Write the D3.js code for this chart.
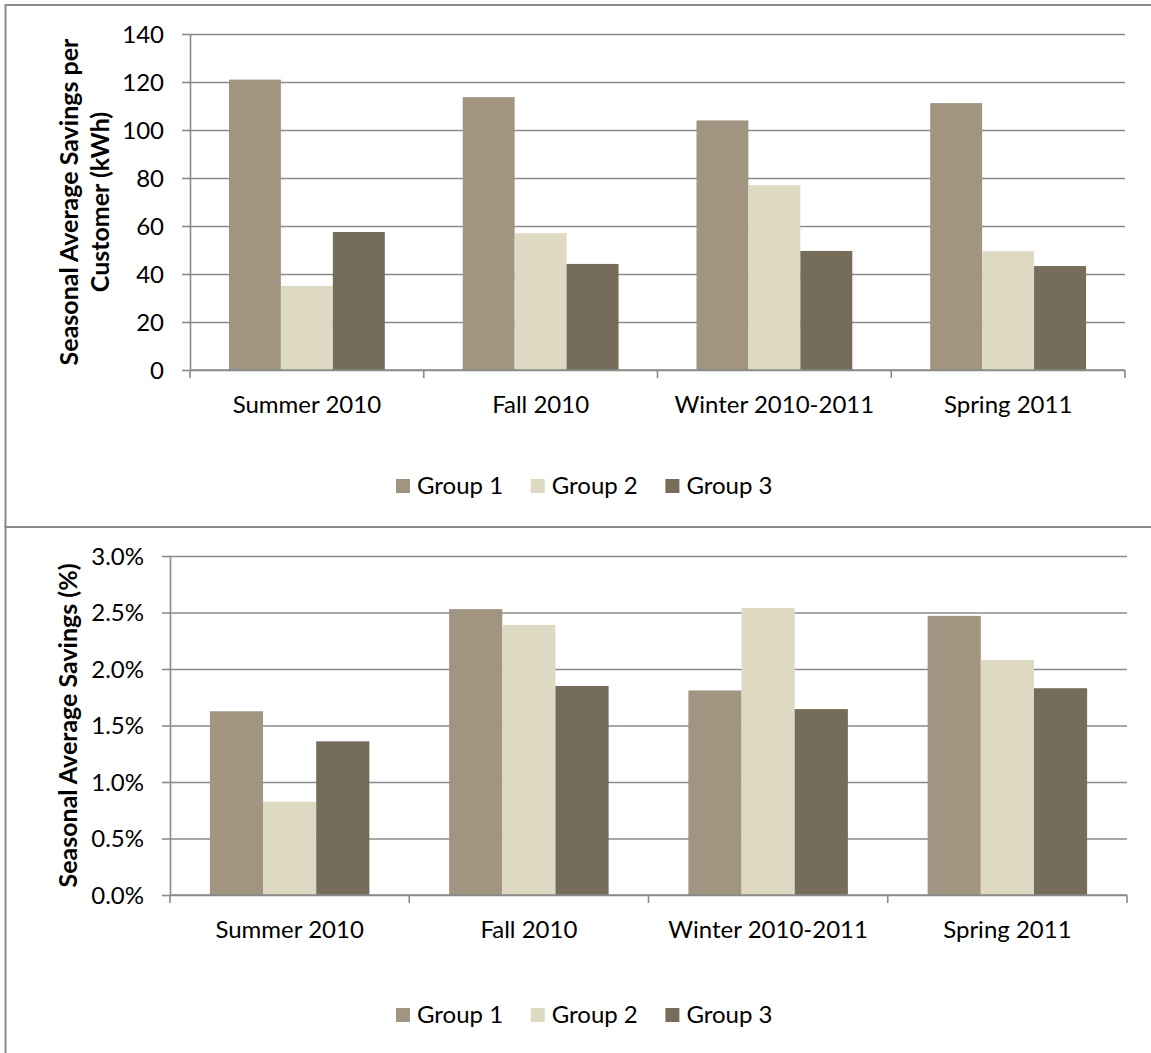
<!DOCTYPE html>
<html>
<head>
<meta charset="utf-8">
<script src="https://cdn.jsdelivr.net/npm/d3@7"></script>
<style>
  html, body { margin: 0; padding: 0; background: #fff; }
  svg { display: block; }
  text { font-family: Lato, "Open Sans", sans-serif; fill: #000; }
</style>
</head>
<body>
<svg id="chart" width="1151" height="1053"></svg>
<script>
// Seasons along the x axis
const seasons = ["Summer 2010", "Fall 2010", "Winter 2010-2011", "Spring 2011"];
const groups = ["Group 1", "Group 2", "Group 3"];
const groupColors = ["#a19582", "#ddd9c3", "#766c5a"];

// Seasonal average savings per customer (kWh), one array per group
const kwhGroup1 = [121, 113.7, 104, 111.2];
const kwhGroup2 = [35, 57, 77, 49.5];
const kwhGroup3 = [57.5, 44.2, 49.6, 43.3];
const kwhTicks = [0, 20, 40, 60, 80, 100, 120, 140];

// Seasonal average savings (%), one array per group
const pctGroup1 = [0.01626, 0.0253, 0.0181, 0.0247];
const pctGroup2 = [0.00826, 0.0239, 0.0254, 0.0208];
const pctGroup3 = [0.0136, 0.0185, 0.01645, 0.0183];
const pctTicks = [0, 0.005, 0.01, 0.015, 0.02, 0.025, 0.03];

const svg = d3.select("#chart");
const gridColor = "#8a8a8a";
const fontSize = 24;
const titleSize = 25;

// Outer frames of the two stacked panels
svg.append("rect").attr("x", 5.5).attr("y", 5).attr("width", 1200).attr("height", 522)
  .attr("fill", "none").attr("stroke", gridColor).attr("stroke-width", 2);
svg.append("rect").attr("x", 5.5).attr("y", 527).attr("width", 1200).attr("height", 600)
  .attr("fill", "none").attr("stroke", gridColor).attr("stroke-width", 2);

function drawPanel(cfg) {
  const g = svg.append("g");
  const x0 = d3.scaleBand().domain(seasons).range([cfg.left, cfg.right]).paddingInner(0).paddingOuter(0);
  const x1 = d3.scaleBand().domain(groups).range([0, x0.bandwidth()]).paddingInner(0).paddingOuter(0.75);
  const y = d3.scaleLinear().domain([0, cfg.ticks[cfg.ticks.length - 1]]).range([cfg.bottom, cfg.top]);

  // horizontal gridlines + outward y ticks
  const yAxis = d3.axisLeft(y).tickValues(cfg.ticks).tickSize(cfg.right - cfg.left).tickFormat("").tickSizeOuter(0);
  g.append("g").attr("transform", `translate(${cfg.right},0)`).call(yAxis)
    .call(s => s.select(".domain").remove())
    .call(s => s.selectAll("line").attr("stroke", gridColor).attr("stroke-width", 1.6));
  const yTicks = d3.axisLeft(y).tickValues(cfg.ticks).tickSize(8).tickFormat("").tickSizeOuter(0);
  g.append("g").attr("transform", `translate(${cfg.left},0)`).call(yTicks)
    .call(s => s.select(".domain").attr("stroke", gridColor).attr("stroke-width", 1.6))
    .call(s => s.selectAll("line").attr("stroke", gridColor).attr("stroke-width", 1.6));

  // y tick labels
  g.selectAll(".ylab").data(cfg.ticks).join("text")
    .attr("x", cfg.left - 26).attr("y", d => y(d)).attr("dy", "0.36em")
    .attr("text-anchor", "end").attr("font-size", fontSize)
    .text(cfg.fmt);

  // bars
  const series = groups.map((grp, i) => ({ grp, color: groupColors[i], values: cfg.values[i] }));
  series.forEach(s => {
    g.append("g").selectAll("rect").data(seasons.map((c, j) => ({ c, v: s.values[j] }))).join("rect")
      .attr("x", d => x0(d.c) + x1(s.grp))
      .attr("width", x1.bandwidth())
      .attr("y", d => y(d.v))
      .attr("height", d => y(0) - y(d.v))
      .attr("fill", s.color);
  });

  // x axis line with ticks between categories
  const bounds = seasons.map(c => x0(c)).concat([cfg.right]);
  g.append("line").attr("x1", cfg.left).attr("x2", cfg.right).attr("y1", y(0)).attr("y2", y(0))
    .attr("stroke", gridColor).attr("stroke-width", 1.6);
  g.selectAll(".xt").data(bounds).join("line")
    .attr("x1", d => d).attr("x2", d => d).attr("y1", y(0)).attr("y2", y(0) + 8)
    .attr("stroke", gridColor).attr("stroke-width", 1.6);

  // category labels
  g.selectAll(".xl").data(seasons).join("text")
    .attr("x", d => x0(d) + x0.bandwidth() / 2).attr("y", y(0) + 43)
    .attr("text-anchor", "middle").attr("font-size", fontSize).text(d => d);

  // rotated axis title (one or two lines)
  const cy = (cfg.top + cfg.bottom) / 2;
  cfg.title.forEach((line, i) => {
    g.append("text")
      .attr("transform", `translate(${cfg.titleX + i * 31},${cy}) rotate(-90)`)
      .attr("text-anchor", "middle").attr("font-size", titleSize).attr("font-weight", "bold")
      .text(line);
  });

  // legend
  groups.forEach((grp, i) => {
    const lx = 396 + i * 134.7;
    g.append("rect").attr("x", lx).attr("y", cfg.legendY - 15).attr("width", 14).attr("height", 14)
      .attr("fill", groupColors[i]);
    g.append("text").attr("x", lx + 21).attr("y", cfg.legendY).attr("font-size", fontSize).text(grp);
  });
}

drawPanel({
  left: 190, right: 1125, top: 34, bottom: 370,
  ticks: kwhTicks, fmt: d3.format("d"),
  values: [kwhGroup1, kwhGroup2, kwhGroup3],
  title: ["Seasonal Average Savings per", "Customer (kWh)"], titleX: 78,
  legendY: 494
});

drawPanel({
  left: 170, right: 1127, top: 556, bottom: 895,
  ticks: pctTicks, fmt: d3.format(".1%"),
  values: [pctGroup1, pctGroup2, pctGroup3],
  title: ["Seasonal Average Savings (%)"], titleX: 77,
  legendY: 1023
});
</script>
</body>
</html>
